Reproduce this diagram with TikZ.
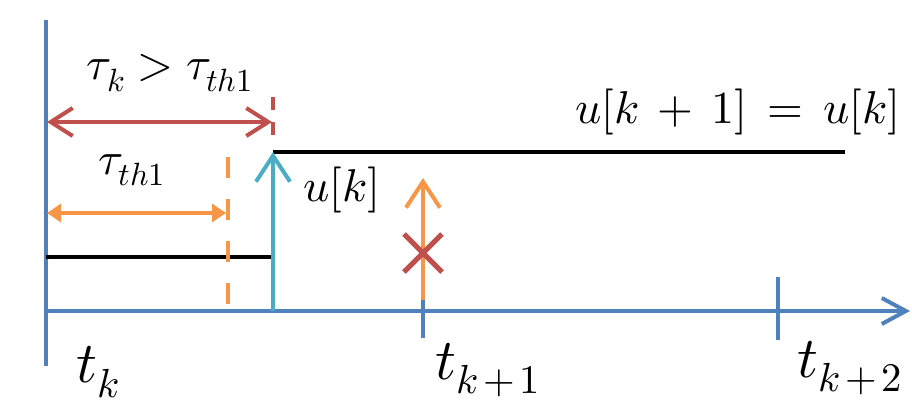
\documentclass[tikz,border=0pt]{standalone}
\usepackage{unicode-math}
\setmathfont{Latin Modern Math}
\usetikzlibrary{arrows.meta}
\definecolor{axblue}{HTML}{4F81BD}
\definecolor{tred}{HTML}{C0504D}
\definecolor{torange}{HTML}{F79646}
\definecolor{tcyan}{HTML}{4BACC6}
\begin{document}
\begin{tikzpicture}[x=1pt,y=-1pt,
  lbl/.style={inner sep=0pt, font=\fontsize{46}{54}\selectfont},
  tlbl/.style={inner sep=0pt, font=\fontsize{58}{66}\selectfont},
  axis/.style={draw=axblue, line width=4pt},
  blk/.style={draw=black, line width=4.5pt},
  bigbarb/.tip={Straight Barb[length=26pt, width=34pt, line width=4pt]},
  midbarb/.tip={Straight Barb[length=22pt, width=28pt, line width=4pt]},
  axbarb/.tip={Straight Barb[length=24pt, width=26pt, line width=4pt]},
  smalltri/.tip={Triangle[length=14pt, width=18pt]}
]
\useasboundingbox (0,0) rectangle (912,408);
% coordinates
\coordinate (vtop) at (46,20);
\coordinate (vbot) at (46,366);
\coordinate (hl) at (46,311);
\coordinate (hr) at (910,311);
\coordinate (t1a) at (423,300);
\coordinate (t1b) at (423,338);
\coordinate (t2a) at (778,277);
\coordinate (t2b) at (778,340);
\coordinate (rd1) at (273,97);
\coordinate (rd2) at (273,138);
\coordinate (ra1) at (47,122);
\coordinate (ra2) at (272,122);
\coordinate (od1) at (228,157);
\coordinate (od2) at (228,310);
\coordinate (oa1) at (47,213);
\coordinate (oa2) at (226,213);
\coordinate (bl1) at (46,257);
\coordinate (bl2) at (271,257);
\coordinate (bh1) at (273,152);
\coordinate (bh2) at (845,152);
\coordinate (c1) at (273,311);
\coordinate (c2) at (273,152);
\coordinate (ou1) at (423,300);
\coordinate (ou2) at (423,178);
\coordinate (xa) at (404,234);
\coordinate (xb) at (442,272);
\coordinate (xc) at (404,272);
\coordinate (xd) at (442,234);
% axes
\draw[axis, -axbarb] (hl) -- (hr);
\draw[axis] (vtop) -- (vbot);
\draw[axis] (t1a) -- (t1b);
\draw[axis] (t2a) -- (t2b);
% black levels
\draw[blk] (bl1) -- (bl2);
\draw[blk] (bh1) -- (bh2);
% red
\draw[draw=tred, line width=4pt, dash pattern=on 13pt off 12pt] (rd1) -- (rd2);
\draw[draw=tred, line width=4pt, midbarb-midbarb] (ra1) -- (ra2);
% orange
\draw[draw=torange, line width=4pt, dash pattern=on 21pt off 21pt] (od1) -- (od2);
\draw[draw=torange, line width=4pt, smalltri-smalltri] (oa1) -- (oa2);
\draw[draw=torange, line width=4pt, -bigbarb] (ou1) -- (ou2);
% cyan
\draw[draw=tcyan, line width=4pt, -bigbarb] (c1) -- (c2);
% red cross
\draw[draw=tred, line width=5pt] (xa) -- (xb);
\draw[draw=tred, line width=5pt] (xc) -- (xd);
% labels
\node[lbl] (tauk) at (170,73) {$\tau_k > \tau_{th1}$};
\node[lbl] (tauth) at (132,170) {$\tau_{th1}$};
\node[lbl] (uk) at (342,190) {$u[k]$};
\node[lbl] (uk1) at (738,112) {$u[k\,+\,1]\,=\,u[k]$};
\node[tlbl] (tk) at (98,372) {$t_k$};
\node[tlbl] (tk1) at (488,370) {$t_{k\mkern2mu+\mkern2mu1}$};
\node[tlbl] (tk2) at (850,368) {$t_{k\mkern2mu+\mkern2mu2}$};
\end{tikzpicture}
\end{document}
